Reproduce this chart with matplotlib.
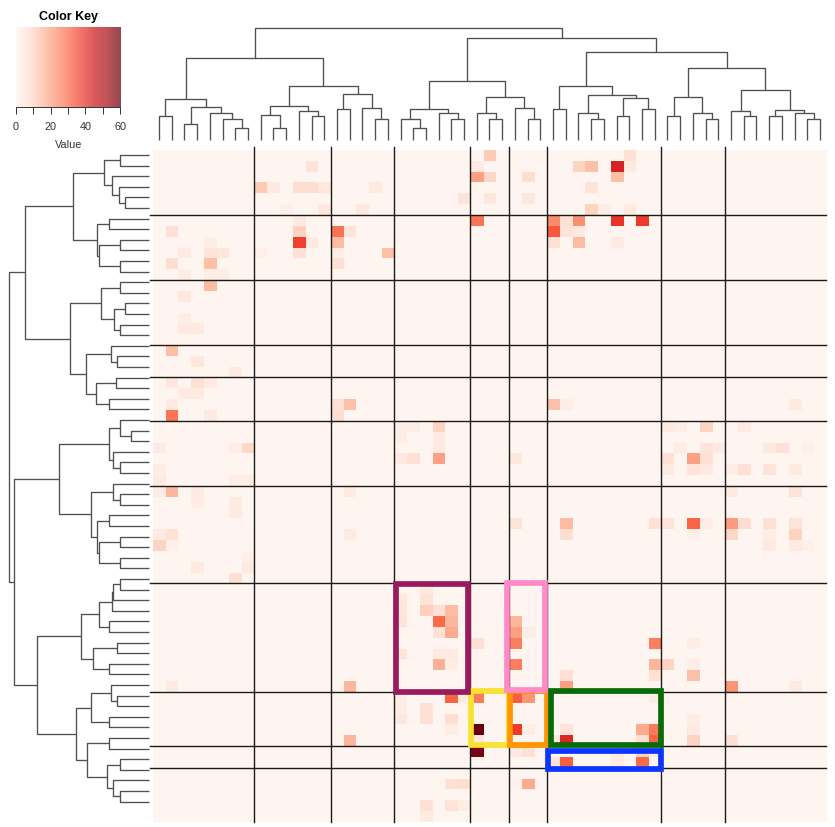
import numpy as np
import matplotlib
matplotlib.use('Agg')
import matplotlib.pyplot as plt
from matplotlib.patches import Rectangle

plt.rcParams['font.family'] = ['Liberation Sans', 'DejaVu Sans']

n_rows, n_cols = 62, 53

# cluster separators (cell boundaries)
col_breaks = [8, 14, 19, 25, 28, 31, 40, 45]
row_breaks = [6, 12, 18, 21, 25, 31, 40, 50, 55, 57]

# non-zero cells: (row, col, value)
cells = [
    (0, 26, 12), (0, 37, 7),
    (1, 12, 6), (1, 25, 4), (1, 33, 10), (1, 34, 14), (1, 36, 43), (1, 37, 4),
    (2, 25, 20), (2, 26, 9), (2, 29, 8), (2, 36, 14),
    (3, 8, 12), (3, 9, 4), (3, 11, 8), (3, 12, 8), (3, 13, 5), (3, 17, 4), (3, 34, 6),
    (4, 24, 6), (4, 26, 5), (4, 29, 5),
    (5, 10, 2), (5, 13, 5), (5, 16, 5), (5, 34, 10), (5, 35, 3), (5, 37, 4),
    (6, 11, 4), (6, 25, 28), (6, 31, 24), (6, 32, 7), (6, 33, 23), (6, 36, 39), (6, 38, 38),
    (7, 1, 7), (7, 11, 10), (7, 14, 28), (7, 15, 6), (7, 31, 33), (7, 32, 6), (7, 33, 4),
    (8, 4, 3), (8, 11, 37), (8, 12, 4), (8, 14, 15), (8, 31, 7), (8, 33, 15), (8, 36, 4),
    (9, 2, 4), (9, 4, 6), (9, 5, 5), (9, 8, 2), (9, 11, 7), (9, 14, 3), (9, 18, 14),
    (10, 1, 8), (10, 4, 14), (10, 14, 7),
    (11, 2, 3), (11, 4, 3), (11, 5, 3),
    (12, 4, 15), (13, 2, 5), (15, 2, 3), (16, 2, 4), (16, 3, 4),
    (18, 1, 14), (19, 3, 5), (20, 6, 4),
    (21, 1, 5), (21, 3, 7), (21, 4, 4), (22, 2, 4), (22, 3, 4),
    (23, 1, 4), (23, 14, 7), (23, 15, 14), (23, 31, 14), (23, 32, 3), (23, 50, 4),
    (24, 1, 28), (24, 4, 4), (24, 14, 8),
    (25, 19, 3), (25, 20, 3), (25, 22, 10), (25, 40, 4), (25, 41, 3), (25, 43, 10), (25, 46, 4),
    (26, 19, 3), (26, 22, 4),
    (27, 0, 4), (27, 6, 3), (27, 7, 9), (27, 22, 4), (27, 41, 3), (27, 43, 6), (27, 44, 4),
    (27, 48, 4), (27, 49, 7), (27, 51, 2),
    (28, 19, 4), (28, 20, 7), (28, 22, 20), (28, 28, 5), (28, 40, 7), (28, 42, 20), (28, 43, 7),
    (29, 0, 3), (29, 40, 4), (29, 42, 6), (29, 43, 4), (29, 45, 3), (29, 46, 7), (29, 48, 6), (29, 50, 4),
    (30, 0, 4), (30, 6, 3), (30, 7, 3),
    (31, 0, 3), (31, 1, 16), (31, 3, 4), (31, 15, 4), (31, 45, 4), (31, 50, 6),
    (32, 3, 3), (32, 6, 4), (33, 6, 4),
    (34, 28, 6), (34, 32, 15), (34, 39, 7), (34, 40, 6), (34, 42, 31), (34, 43, 3), (34, 45, 21),
    (34, 46, 8), (34, 48, 7), (34, 50, 6),
    (35, 0, 4), (35, 1, 7), (35, 15, 4), (35, 32, 8), (35, 42, 2), (35, 45, 9), (35, 48, 3), (35, 50, 10),
    (36, 0, 10), (36, 1, 2), (36, 48, 4), (36, 50, 4), (36, 51, 2),
    (37, 7, 2), (38, 3, 4), (38, 7, 4), (39, 6, 7),
    (40, 21, 4), (41, 19, 5), (41, 21, 6),
    (42, 19, 5), (42, 21, 11), (42, 22, 7), (42, 23, 15),
    (43, 19, 6), (43, 22, 30), (43, 23, 16), (43, 28, 16),
    (44, 22, 7), (44, 23, 18), (44, 28, 20), (44, 29, 3),
    (45, 25, 7), (45, 28, 26), (45, 39, 26), (45, 42, 3),
    (46, 19, 6), (46, 22, 4), (46, 23, 4),
    (47, 22, 17), (47, 23, 3), (47, 28, 26), (47, 39, 16), (47, 40, 10), (47, 42, 3),
    (48, 32, 7), (48, 39, 7), (48, 42, 14),
    (49, 1, 4), (49, 15, 16), (49, 32, 20), (49, 45, 22), (49, 50, 4),
    (50, 19, 3), (50, 23, 31), (50, 24, 4), (50, 25, 27), (50, 28, 32), (50, 29, 22), (50, 39, 3),
    (51, 19, 3), (51, 21, 7),
    (52, 19, 5), (52, 21, 7), (52, 23, 8), (52, 42, 3),
    (53, 23, 3), (53, 25, 60.5), (53, 28, 38), (53, 29, 3), (53, 32, 6), (53, 38, 18), (53, 39, 27), (53, 42, 4),
    (54, 15, 16), (54, 25, 5), (54, 31, 5), (54, 32, 42), (54, 38, 8), (54, 39, 31), (54, 42, 10), (54, 45, 7),
    (55, 25, 58), (55, 28, 4), (55, 29, 7), (55, 36, 4), (55, 38, 10), (55, 39, 4),
    (56, 31, 6), (56, 32, 32), (56, 36, 3), (56, 38, 30),
    (58, 23, 7), (58, 24, 8), (58, 28, 2), (58, 29, 18),
    (60, 21, 7), (60, 23, 6), (60, 24, 3), (61, 21, 4),
]

# dendrograms: (merge height, left, right), leaves are column / row indices
col_tree = (335,
    (247,
        (124, (72, 0, 1), (100, (48, 2, 3), (82, 4, (62, 5, (35, 6, 7))))),
        (163,
            (103, (75, 8, (35, 9, 10)), (87, 11, (72, 12, 13))),
            (138, (92, 14, 15), (95, 16, (62, 17, 18))))),
    (305,
        (176,
            (92, (62, 19, (35, 20, 21)), (82, 22, (62, 23, 24))),
            (130, (82, 25, (62, 26, 27)), (95, 28, (62, 29, 30)))),
        (263,
            (163, (92, 31, 32), (135, (82, 33, (62, 34, 35)), (125, (72, 36, 37), (92, 38, 39)))),
            (217,
                (128, (72, 40, 41), (82, 42, (62, 43, 44))),
                (149, (87, 45, (72, 46, 47)), (90, (72, 48, 49), (82, 50, (62, 51, 52))))))))

row_tree = (420,
    (373,
        (228,
            (135, (88, 0, 1), (113, 2, (91, 3, (72, 4, 5)))),
            (158, (122, 6, 7), (151, (88, 8, 9), (88, 10, 11)))),
        (237,
            (144, (88, 12, 13), (105, (72, 14, 15), (88, 16, 17))),
            (189, (115, 18, (98, 19, 20)), (159, (99, 21, 22), (122, 23, 24))))),
    (406,
        (272,
            (122, (88, 25, (56, 26, 27)), (110, 28, (88, 29, 30))),
            (176, (110, 31, (88, 32, 33)), (156, (122, 34, 35), (150, (88, 36, 37), (88, 38, 39))))),
        (336,
            (205,
                (150, (111, (110, (88, 40, 41), 42), 43), (122, 44, 45)),
                (168, (98, 46, 47), (122, 48, 49))),
            (221,
                (176, (115, 50, (98, 51, 52)), (122, 53, 54)),
                (188, (122, 55, 56), (128, (88, 57, 58), (110, 59, (88, 60, 61))))))))

# highlighted blocks: (col from, col to, row from, row to, colour), in drawing order
boxes = [
    (25.04, 28.0, 49.95, 54.95, '#fae232'),
    (28.09, 31.05, 49.95, 54.95, '#ff9500'),
    (27.9, 30.84, 39.98, 49.86, '#ff8ac8'),
    (19.12, 24.78, 40.1, 50.0, '#991b5d'),
    (31.36, 39.97, 49.9, 54.95, '#076b07'),
    (31.1, 39.97, 55.5, 57.12, '#0a35ff'),
]

key_ticks = [0, 10, 20, 30, 40, 50, 60]
key_labels = ['0', '', '20', '', '40', '', '60']

mat = np.zeros((n_rows, n_cols))
for r, c, v in cells:
    mat[r, c] = v
vmax = mat.max()

W, H = 835, 827
fig = plt.figure(figsize=(W / 100, H / 100), dpi=100)


def px_axes(x0, y0, x1, y1):
    # axes from pixel box (top-left origin)
    return fig.add_axes([x0 / W, 1 - y1 / H, (x1 - x0) / W, (y1 - y0) / H])


def draw_tree(ax, node, top):
    if isinstance(node, int):
        return node + 0.5, 0
    h, a, b = node
    pa, ha = draw_tree(ax, a, top)
    pb, hb = draw_tree(ax, b, top)
    pos = [pa, pa, pb, pb]
    hts = [ha, h, h, hb]
    if top:
        ax.plot(pos, hts, color='#505050', lw=0.95, clip_on=False, solid_capstyle='butt')
    else:
        ax.plot(hts, pos, color='#505050', lw=0.95, clip_on=False, solid_capstyle='butt')
    return (pa + pb) / 2, h


# heatmap
ax = px_axes(152.7, 149.7, 826.3, 821.7)
ax.imshow(mat, cmap='Reds', vmin=0, vmax=vmax, aspect='auto', interpolation='nearest',
          extent=(0, n_cols, n_rows, 0))
for c in col_breaks:
    ax.plot([c, c], [-0.25, n_rows], color='#1a1a1a', lw=1.0, clip_on=False, zorder=2)
for r in row_breaks:
    ax.plot([-0.25, n_cols], [r, r], color='#1a1a1a', lw=1.0, clip_on=False, zorder=2)
for c0, c1, r0, r1, col in boxes:
    ax.add_patch(Rectangle((c0, r0), c1 - c0, r1 - r0, fill=False, ec=col, lw=4.1,
                           joinstyle='miter', clip_on=False, zorder=3))
ax.set_xlim(0, n_cols)
ax.set_ylim(n_rows, 0)
ax.axis('off')

# column dendrogram
axt = px_axes(152.7, 20, 826.3, 140)
draw_tree(axt, col_tree, True)
axt.set_xlim(0, n_cols)
axt.set_ylim(0, 360)
axt.axis('off')

# row dendrogram
axl = px_axes(0, 149.7, 149.3, 807)
draw_tree(axl, row_tree, False)
axl.set_xlim(448, 0)
axl.set_ylim(n_rows, 0)
axl.axis('off')

# colour key
axk = px_axes(16, 27, 121, 107)
grad = np.linspace(0, vmax, 256)[None, :]
axk.imshow(grad, cmap='Reds', vmin=0, vmax=vmax, aspect='auto', alpha=0.72,
           extent=(0, vmax, 0, 1))
axk.set_xlim(0, vmax)
axk.set_ylim(0, 1)
axk.set_yticks([])
for s in ['top', 'right', 'left']:
    axk.spines[s].set_visible(False)
axk.spines['bottom'].set_bounds(0, 60)
axk.spines['bottom'].set_color('#333333')
axk.spines['bottom'].set_linewidth(0.7)
axk.set_xticks(key_ticks)
axk.set_xticklabels(key_labels, fontsize=7.8, color='#333333')
axk.tick_params(axis='x', length=4.8, width=0.7, color='#333333', pad=6)
axk.set_xlabel('Value', fontsize=7.8, color='#333333', labelpad=5.5)
axk.set_title('Color Key', fontsize=9, fontweight='bold', pad=5)

fig.savefig('out.png', dpi=100)
